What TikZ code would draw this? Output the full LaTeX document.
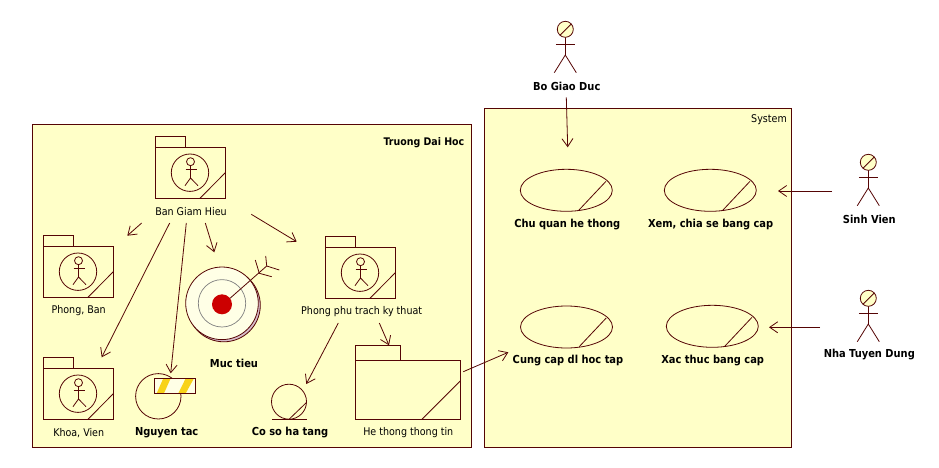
\documentclass[tikz,border=0pt]{standalone}
\usepackage{fontspec}
\setmainfont{DejaVu Sans Condensed}
\usetikzlibrary{calc,arrows.meta,shapes.geometric}
\definecolor{ink}{HTML}{550505}
\definecolor{paper}{HTML}{FFFFC8}
\definecolor{cream}{HTML}{FFFFE6}
\definecolor{shade}{HTML}{D8BCCB}
\definecolor{stripe}{HTML}{F8D218}
\definecolor{hit}{HTML}{CC0000}
\tikzset{
  base/.style={draw=ink, line width=0.8pt},
  frame/.style={base, fill=paper, line width=1pt},
  conn/.style={base, -{Straight Barb[length=8pt,width=11pt,line width=0.8pt]}},
  lab/.style={text=black, font=\fontsize{10.6}{12}\selectfont, inner sep=0pt},
  labb/.style={text=black, font=\fontsize{11}{12}\selectfont\bfseries, inner sep=0pt},
  usecase/.style={base, ellipse, minimum width=92pt, minimum height=42pt, inner sep=0pt},
  pics/stickman/.style={code={
    \draw[base] (0,0) -- (0,11);
    \draw[base] (-9.5,0) -- (9.5,0);
    \draw[base] (-11,28.7) -- (0,11) -- (11,28.7);
    \draw[base] (0,0) -- (0,-7);
    \draw[base, fill=paper] (0,-14.7) circle (8);
    \draw[base] (-5,-9) -- (6,-20);
  }},
  pics/pkgbox/.style={code={
    \draw[base] (0,11) -- (0,0) -- (30.4,0) -- (30.4,11);
    \draw[base] (0,11) rectangle (70,62);
    \draw[base] (44.7,62) -- (70,36.4);
    \draw[base] (34.7,36.4) circle (18.7);
    \draw[base] (35.2,25.4) circle (4);
    \draw[base] (35.2,29.4) -- (35.2,41.7);
    \draw[base] (30.4,33) -- (41.4,33);
    \draw[base] (29.7,49.4) -- (35.2,41.7) -- (42.7,49.4);
  }},
}
\begin{document}
\begin{tikzpicture}[x=1pt,y=-1pt]
  \useasboundingbox (0,0) rectangle (939,468);
  \fill[white] (0,0) rectangle (939,468);

  % the two boxes
  \draw[frame] (32.3,124.5) rectangle (471.7,447);
  \draw[frame] (484.3,108.3) rectangle (791,447);
  \node[labb, font=\fontsize{10.5}{12}\selectfont\bfseries, anchor=east] (truong) at (464.5,143) {Truong Dai Hoc};
  \node[lab, anchor=east] (system) at (787,120) {System};

  % packages
  \pic at (155.3,136.3) {pkgbox};
  \pic at (43.3,235.3) {pkgbox};
  \pic at (43.3,357.3) {pkgbox};
  \pic at (325.3,236.3) {pkgbox};
  \node[lab] (bgh) at (191,212) {Ban Giam Hieu};
  \node[lab] (phongban) at (78.7,311) {Phong, Ban};
  \node[lab] (khoavien) at (78.7,433) {Khoa, Vien};
  \node[lab] (ppt) at (361.7,312) {Phong phu trach ky thuat};

  % he thong thong tin
  \draw[base] (355.3,360.3) -- (355.3,345.3) -- (400.3,345.3) -- (400.3,360.3);
  \draw[base] (355.3,360.3) rectangle (460.3,419.3);
  \draw[base] (422,419.3) -- (460.3,381);
  \node[lab] (htinfo) at (408.3,433) {He thong thong tin};

  % muc tieu
  \draw[base, fill=shade] (223.8,305.3) circle (36.5);
  \draw[base, fill=cream] (222,303.3) circle (36.3);
  \draw[draw=black!50, line width=0.7pt] (222,303.3) circle (23.7);
  \fill[hit] (222,304.3) circle (10);
  \draw[base] (230,298.3) -- (266.7,266);
  \draw[base] (255.3,260) -- (259.3,273.3) -- (271.7,276.7);
  \draw[base] (265.7,256) -- (266.7,266) -- (279.3,270);
  \node[labb] (muctieu) at (234,363) {Muc tieu};

  % nguyen tac
  \draw[base] (158.3,396.3) circle (22.7);
  \fill[cream] (154.3,378.3) rectangle (195.3,393.3);
  \fill[stripe] (156.7,393.3) -- (163.3,378.3) -- (170.7,378.3) -- (164,393.3) -- cycle;
  \fill[stripe] (178.3,393.3) -- (185.7,378.3) -- (194,378.3) -- (185.7,393.3) -- cycle;
  \draw[base] (154.3,378.3) rectangle (195.3,393.3);
  \node[labb] (nguyentac) at (166.7,433) {Nguyen tac};

  % co so ha tang
  \draw[base] (289,401.7) circle (17.5);
  \draw[base] (272.3,419.3) -- (306.7,419.3);
  \draw[base] (289,419.3) -- (306.7,402.3);
  \node[labb] (coso) at (290,433) {Co so ha tang};

  % use cases
  \node[usecase] (chuquan) at (566.3,190.3) {};
  \node[usecase] (xem) at (710.3,190.3) {};
  \node[usecase] (cungcap) at (566.5,327) {};
  \node[usecase] (xacthuc) at (712.3,326.3) {};
  \draw[base] ($(chuquan)+(12.7,19.7)$) -- ($(chuquan)+(39.7,-9)$);
  \draw[base] ($(xem)+(12.7,19.7)$) -- ($(xem)+(39.7,-9)$);
  \draw[base] ($(cungcap)+(12.7,19.7)$) -- ($(cungcap)+(39.7,-9)$);
  \draw[base] ($(xacthuc)+(12.7,19.7)$) -- ($(xacthuc)+(39.7,-9)$);
  \node[labb] (lchuquan) at (567.3,225) {Chu quan he thong};
  \node[labb] (lxem) at (710.7,225) {Xem, chia se bang cap};
  \node[labb] (lcungcap) at (568,361) {Cung cap dl hoc tap};
  \node[labb] (lxacthuc) at (712.7,361) {Xac thuc bang cap};

  % actors
  \pic at (565.3,44) {stickman};
  \pic at (868.3,177) {stickman};
  \pic at (868.3,313) {stickman};
  \node[labb] (bgd) at (566.7,86) {Bo Giao Duc};
  \node[labb] (sinhvien) at (869.3,219) {Sinh Vien};
  \node[labb] (nhatd) at (869.3,355) {Nha Tuyen Dung};

  % free ends of the connectors
  \coordinate (bghA) at (141.7,223);
  \coordinate (bghB) at (169.7,223);
  \coordinate (bghC) at (186.3,223);
  \coordinate (bghD) at (205.3,223);
  \coordinate (bghE) at (251.3,214.3);
  \coordinate (toPB) at (127.3,235.7);
  \coordinate (toKV) at (101.7,357.3);
  \coordinate (toNT) at (170.7,373.3);
  \coordinate (toMT) at (214.3,252.3);
  \coordinate (toPPT) at (296.7,241.7);
  \coordinate (pptA) at (338.3,323);
  \coordinate (pptB) at (379.3,323);
  \coordinate (toCS) at (306.3,384);
  \coordinate (toHT) at (389,345.3);
  \coordinate (htOut) at (463.3,371.7);
  \coordinate (toCC) at (508.3,352.3);
  \coordinate (bgdOut) at (566.3,97.3);
  \coordinate (toCQ) at (567.7,147.3);
  \coordinate (svOut) at (832,191);
  \coordinate (toXem) at (778,191);
  \coordinate (ntdOut) at (820,327.3);
  \coordinate (toXT) at (769,327.3);

  \draw[conn] (bghA) -- (toPB);
  \draw[conn] (bghB) -- (toKV);
  \draw[conn] (bghC) -- (toNT);
  \draw[conn] (bghD) -- (toMT);
  \draw[conn] (bghE) -- (toPPT);
  \draw[conn] (pptA) -- (toCS);
  \draw[conn] (pptB) -- (toHT);
  \draw[conn] (htOut) -- (toCC);
  \draw[conn] (bgdOut) -- (toCQ);
  \draw[conn] (svOut) -- (toXem);
  \draw[conn] (ntdOut) -- (toXT);
\end{tikzpicture}
\end{document}
